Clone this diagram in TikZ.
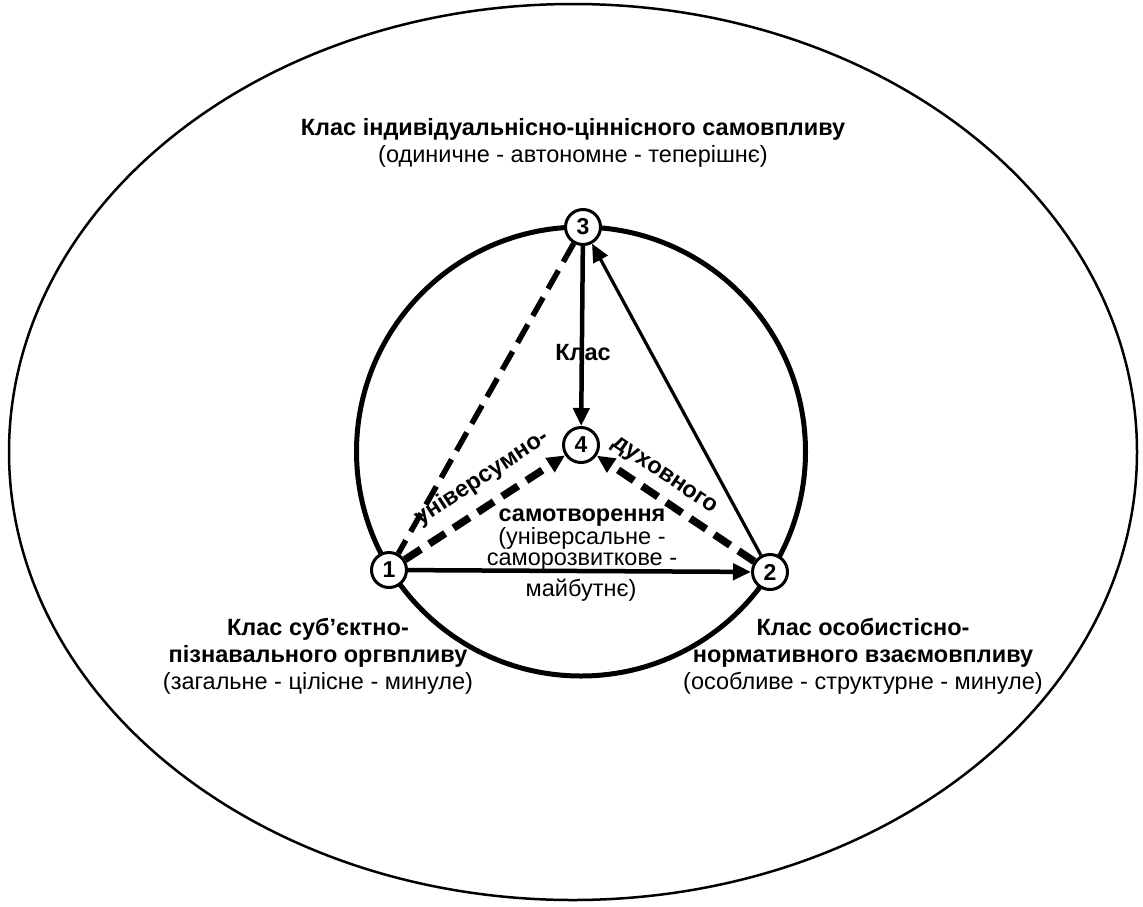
\documentclass[tikz,border=0pt]{standalone}
\usepackage{fontspec}
\setmainfont{Liberation Sans}
\usetikzlibrary{arrows.meta}
\begin{document}
\begin{tikzpicture}[x=1pt,y=-1pt,
  num/.style={circle,draw,line width=3pt,fill=white,minimum size=35pt,inner sep=0pt,
    font=\fontsize{23}{25}\selectfont\bfseries},
  lbl/.style={align=center,inner sep=0pt,font=\fontsize{23.5}{27}\selectfont},
  blbl/.style={lbl,font=\fontsize{23.5}{27}\selectfont\bfseries},
  tip/.style={-{Triangle[length=18pt,width=16pt]}},
  solidarrow/.style={line width=4.5pt,tip},
  thinarrow/.style={line width=3.2pt,tip},
  dashline/.style={line width=5.5pt,dash pattern=on 21pt off 10pt},
  dasharrow/.style={line width=7.5pt,dash pattern=on 19pt off 10pt,tip}]
\useasboundingbox (0,0) rectangle (1143,906);
\draw[line width=2.5pt] (573,452) ellipse [x radius=564, y radius=448];
\draw[line width=5pt] (581,451.5) circle [radius=224.5];

\node[num] (n1) at (389,570) {1};
\node[num] (n2) at (770,572) {2};
\node[num] (n3) at (583,227) {3};
\node[num] (n4) at (581,445) {4};

\draw[dashline] (n3) -- (n1);
\draw[dasharrow] (n1) -- (n4);
\draw[dasharrow] (n2) -- (n4);
\draw[solidarrow] (n1) -- (n2);
\draw[solidarrow] (n3) -- (n4);
\draw[thinarrow] (n2) -- (n3);

\node[lbl] (top) at (573,143) {\textbf{Клас індивідуальнісно-ціннісного самовпливу}\\(одиничне - автономне - теперішнє)};
\node[lbl] (left) at (318,656) {\textbf{Клас суб’єктно-}\\\textbf{пізнавального оргвпливу}\\(загальне - цілісне - минуле)};
\node[lbl] (right) at (863,656) {\textbf{Клас особистісно-}\\\textbf{нормативного взаємовпливу}\\(особливе - структурне - минуле)};
\node[blbl] (klas) at (583,353) {Клас};
\node[blbl,rotate=33.2] (univ) at (482,478) {універсумно-};
\node[blbl,rotate=-33.9] (duh) at (664,476) {духовного};
\node[lbl,font=\fontsize{23.5}{21}\selectfont] (samo) at (582,540) {\textbf{самотворення}\\(універсальне -\\саморозвиткове -};
\node[lbl] (maib) at (581,590) {майбутнє)};
\end{tikzpicture}
\end{document}
